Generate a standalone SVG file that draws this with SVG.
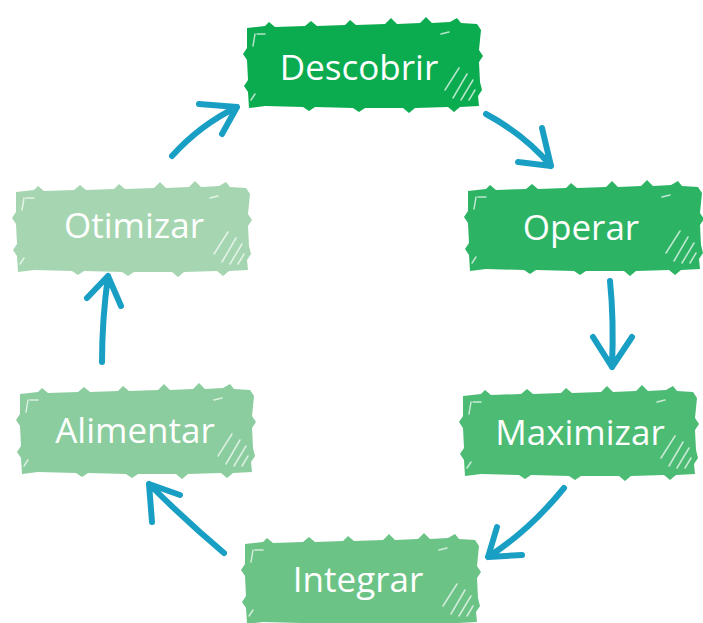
<svg xmlns="http://www.w3.org/2000/svg" width="703" height="623" viewBox="0 0 703 623">
<style>
.lbl{font-family:"Open Sans","Liberation Sans",sans-serif;font-size:35px;fill:#ffffff;text-anchor:middle}
.arr{fill:none;stroke:#1a9fc4;stroke-width:6;stroke-linecap:round;stroke-linejoin:round}
.scr{fill:none;stroke:#ffffff;stroke-width:1.5;stroke-opacity:0.7;stroke-linecap:round}
</style>
<defs>
<path id="box" d="M2,8 L20,6 L24,2 L30,7 L60,6 L66,1 L72,6 L100,5 L105,0 L111,5 L140,4 L146,-2 L152,4 L175,3 L181,-3 L187,3 L205,2 L212,-2 L216,3 L232,4 L236,10 L234,30 L238,36 L234,42 L235,62 L237,70 L233,76 L234,86 L215,87 L209,92 L203,87 L170,88 L164,93 L158,88 L120,88 L114,92 L108,88 L70,87 L64,91 L58,87 L20,86 L4,88 L3,72 L-1,66 L3,60 L2,40 L-2,34 L2,28 Z"/>
<g id="tex">
<path class="scr" d="M10,14 L8,26 M12,14 L20,14 M200,70 L214,48 M208,78 L222,54 M216,80 L228,60 M224,80 L230,70 M6,80 L10,74 M196,14 L204,12"/>
</g>
</defs>
<g id="descobrir"><use href="#box" x="245" y="20" fill="#0bab4f"/><use href="#tex" x="245" y="20"/><text class="lbl" x="359" y="80">Descobrir</text></g>
<g id="operar"><use href="#box" x="466" y="183" fill="#2cb464"/><use href="#tex" x="466" y="183"/><text class="lbl" x="581" y="240">Operar</text></g>
<g id="maximizar"><use href="#box" x="461" y="388" fill="#4cbb74"/><use href="#tex" x="461" y="388"/><text class="lbl" x="580" y="445">Maximizar</text></g>
<g id="integrar"><use href="#box" x="243" y="536" fill="#6cc386"/><use href="#tex" x="243" y="536"/><text class="lbl" x="358" y="592">Integrar</text></g>
<g id="alimentar"><use href="#box" x="18" y="386" fill="#8bcd9e"/><use href="#tex" x="18" y="386"/><text class="lbl" x="135" y="443">Alimentar</text></g>
<g id="otimizar"><use href="#box" x="14" y="184" fill="#a6d6b1"/><use href="#tex" x="14" y="184"/><text class="lbl" x="134" y="238">Otimizar</text></g>
<g id="connectors">
<path class="arr" d="M172,156 Q200,125 237,107 M199,104 L237,107 L222,134"/>
<path class="arr" d="M486,114 Q525,135 551,166 M518,162 L551,166 L542,128"/>
<path class="arr" d="M610,281 Q614,320 612,367 M593,337 L612,367 L632,337"/>
<path class="arr" d="M564,488 Q530,530 488,557 M497,527 L488,557 L522,555"/>
<path class="arr" d="M224,553 Q185,520 149,484 M152,522 L149,484 L180,495"/>
<path class="arr" d="M102,362 Q102,320 108,276 M87,298 L108,276 L121,306"/>
</g>
</svg>
